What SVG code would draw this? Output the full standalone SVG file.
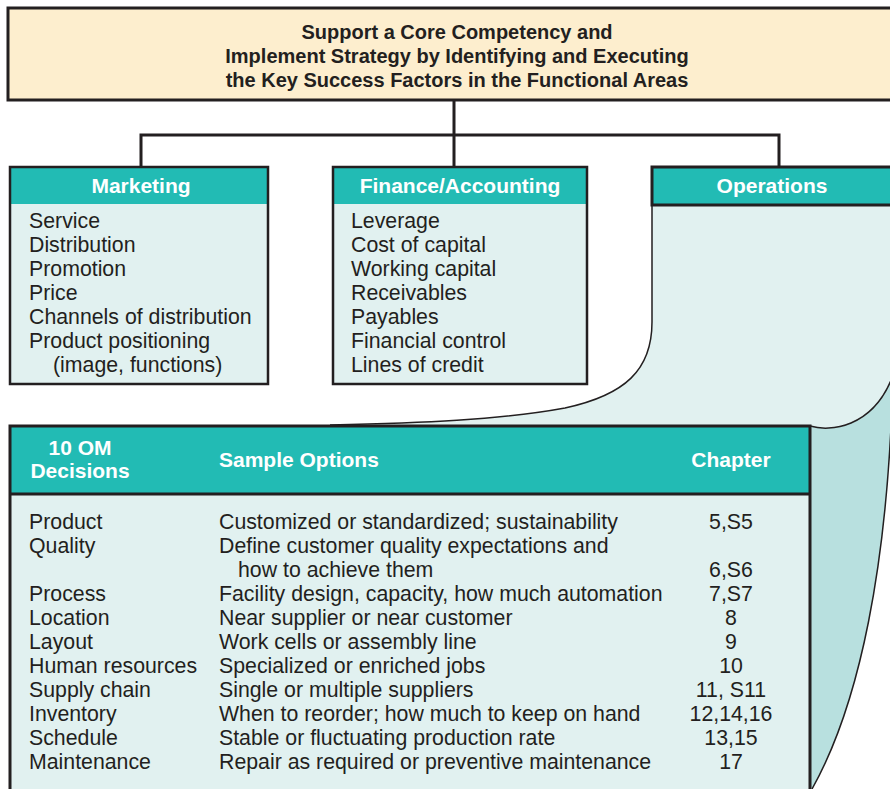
<svg xmlns="http://www.w3.org/2000/svg" width="890" height="789" viewBox="0 0 890 789">
<style>
text{font-family:"Liberation Sans",Arial,Helvetica,sans-serif;fill:#231F20}
.t{font-size:20px;font-weight:bold;text-anchor:middle}
.h{font-size:21px;font-weight:bold;fill:#fff}
.hc{text-anchor:middle}
.b{font-size:21.3px}
.c{text-anchor:middle}
.conn{fill:none;stroke:#231F20;stroke-width:3}
.hdr{fill:#22BBB4}
.body{fill:#E1F1F0}
.box{fill:none;stroke:#231F20;stroke-width:2.5}
.thin{fill:none;stroke:#231F20;stroke-width:1.5}
</style>
<rect width="890" height="789" fill="#fff"/>
<g id="connectors">
<path class="conn" d="M454 100V167M141 167V135H779V167"/>
</g>
<g id="top">
<rect x="8" y="8" width="890" height="92" fill="#FDEECE" stroke="#231F20" stroke-width="3"/>
<text class="t" x="457" y="39">Support a Core Competency and</text>
<text class="t" x="457" y="63">Implement Strategy by Identifying and Executing</text>
<text class="t" x="457" y="87">the Key Success Factors in the Functional Areas</text>
</g>
<g id="marketing">
<rect class="body" x="10" y="167" width="258" height="217"/>
<rect class="hdr" x="10" y="167" width="258" height="37"/>
<rect class="box" x="10" y="167" width="258" height="217"/>
<text class="h hc" x="141" y="193">Marketing</text>
<g class="b">
<text x="29" y="228">Service</text>
<text x="29" y="252">Distribution</text>
<text x="29" y="276">Promotion</text>
<text x="29" y="300">Price</text>
<text x="29" y="324">Channels of distribution</text>
<text x="29" y="348">Product positioning</text>
<text x="53" y="372">(image, functions)</text>
</g>
</g>
<g id="finance">
<rect class="body" x="333" y="167" width="254" height="217"/>
<rect class="hdr" x="333" y="167" width="254" height="37"/>
<rect class="box" x="333" y="167" width="254" height="217"/>
<text class="h hc" x="460" y="193">Finance/Accounting</text>
<g class="b">
<text x="351" y="228">Leverage</text>
<text x="351" y="252">Cost of capital</text>
<text x="351" y="276">Working capital</text>
<text x="351" y="300">Receivables</text>
<text x="351" y="324">Payables</text>
<text x="351" y="348">Financial control</text>
<text x="351" y="372">Lines of credit</text>
</g>
</g>
<g id="operations">
<path d="M810 426C830 432 872 428 892 378V405C886 560 862 700 812 789H810Z" fill="#B8E0DF"/>
<path class="thin" d="M892 405C886 560 862 700 812 789"/>
<path class="body" d="M652 205H892V378C872 428 830 432 810 426H330C420 423 500 420 565 408C625 395 652 370 652 322Z"/>
<path class="thin" d="M892 378C872 428 830 432 810 426M330 425C420 423 500 420 565 408C625 395 652 370 652 322V205"/>
<rect class="hdr" x="652" y="167" width="245" height="38"/>
<path d="M895 167H652V205H895" fill="none" stroke="#231F20" stroke-width="3"/>
<text class="h hc" x="772" y="193">Operations</text>
</g>
<g id="table">
<rect class="body" x="10" y="426" width="800" height="370"/>
<rect class="hdr" x="10" y="426" width="800" height="68"/>
<path d="M10 800V426H810V800M10 494H810" fill="none" stroke="#231F20" stroke-width="3"/>
<text class="h hc" x="80" y="455">10 OM</text>
<text class="h hc" x="80" y="478">Decisions</text>
<text class="h" x="219" y="467">Sample Options</text>
<text class="h hc" x="731" y="467">Chapter</text>
<g class="b">
<text x="29" y="529">Product</text>
<text x="29" y="553">Quality</text>
<text x="29" y="601">Process</text>
<text x="29" y="625">Location</text>
<text x="29" y="649">Layout</text>
<text x="29" y="673">Human resources</text>
<text x="29" y="697">Supply chain</text>
<text x="29" y="721">Inventory</text>
<text x="29" y="745">Schedule</text>
<text x="29" y="769">Maintenance</text>
<text x="219" y="529">Customized or standardized; sustainability</text>
<text x="219" y="553">Define customer quality expectations and</text>
<text x="238" y="577">how to achieve them</text>
<text x="219" y="601">Facility design, capacity, how much automation</text>
<text x="219" y="625">Near supplier or near customer</text>
<text x="219" y="649">Work cells or assembly line</text>
<text x="219" y="673">Specialized or enriched jobs</text>
<text x="219" y="697">Single or multiple suppliers</text>
<text x="219" y="721">When to reorder; how much to keep on hand</text>
<text x="219" y="745">Stable or fluctuating production rate</text>
<text x="219" y="769">Repair as required or preventive maintenance</text>
<text class="c" x="731" y="529">5,S5</text>
<text class="c" x="731" y="577">6,S6</text>
<text class="c" x="731" y="601">7,S7</text>
<text class="c" x="731" y="625">8</text>
<text class="c" x="731" y="649">9</text>
<text class="c" x="731" y="673">10</text>
<text class="c" x="731" y="697">11, S11</text>
<text class="c" x="731" y="721">12,14,16</text>
<text class="c" x="731" y="745">13,15</text>
<text class="c" x="731" y="769">17</text>
</g>
</g>
</svg>
